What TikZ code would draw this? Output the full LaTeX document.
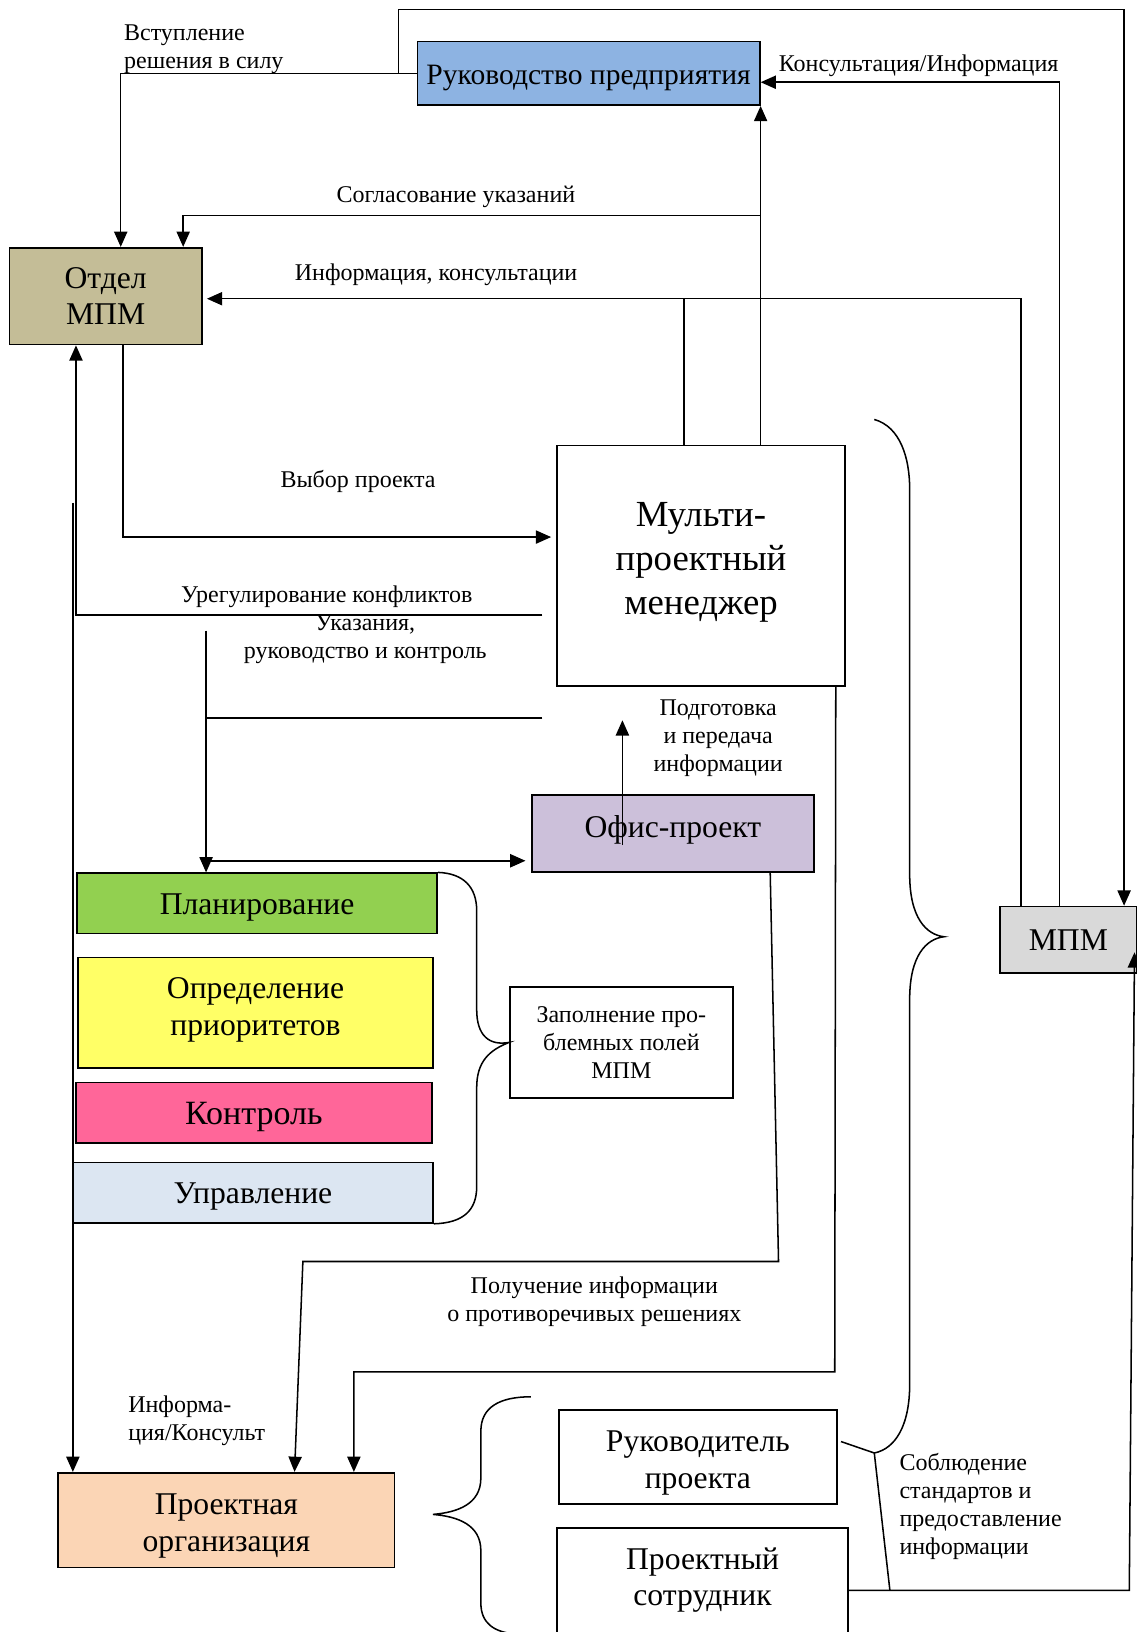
\documentclass[tikz,border=0pt]{standalone}
\usepackage{fontspec}
\setmainfont{Liberation Serif}
\usetikzlibrary{arrows.meta,calc}
\newcommand{\fntS}{\fontsize{17.3pt}{20.25pt}\selectfont}
\newcommand{\fntZ}{\fontsize{17.3pt}{20.25pt}\selectfont}
\newcommand{\fntR}{\fontsize{21.3pt}{25pt}\selectfont}
\newcommand{\fntM}{\fontsize{22.8pt}{26.5pt}\selectfont}
\newcommand{\fntK}{\fontsize{24.5pt}{28pt}\selectfont}
\newcommand{\fntL}{\fontsize{26.5pt}{31.5pt}\selectfont}
\definecolor{cRuk}{HTML}{8DB3E2}
\definecolor{cOtd}{HTML}{C4BD97}
\definecolor{cOfis}{HTML}{CCC0DA}
\definecolor{cPlan}{HTML}{92D050}
\definecolor{cOpr}{HTML}{FFFF66}
\definecolor{cKon}{HTML}{FF6699}
\definecolor{cUpr}{HTML}{DCE6F2}
\definecolor{cMpm}{HTML}{D9D9D9}
\definecolor{cPorg}{HTML}{FBD5B5}
\tikzset{
  box/.style={draw, line width=1.2pt, inner sep=0pt, align=center, font=\fntM},
  btxt/.style={inner sep=0pt, align=center, font=\fntM},
  conn/.style={line width=1.1pt},
  arr/.style={conn, -{Triangle[length=11pt,width=9.5pt]}},
  lbl/.style={font=\fntS, align=center, inner sep=0pt},
  brace/.style={line width=1.1pt},
}
\begin{document}
\begin{tikzpicture}[x=0.75pt,y=-0.75pt]
\useasboundingbox (0,0) rectangle (1092,1568);

% boxes
\node[box, fill=cRuk, minimum width=246.75pt, minimum height=45.75pt] (ruk) at (565.5,70.5) {};
\node[btxt, font=\fntR] (rukT) at (565.5,74.5) {Руководство предприятия};
\node[box, fill=cOtd, minimum width=138.75pt, minimum height=69.75pt] (otdel) at (101.5,284.5) {Отдел\\МПМ};
\node[box, minimum width=207.75pt, minimum height=173.25pt] (multi) at (673.5,543.5) {};
\node[btxt, font=\fntL] (multiT) at (673.5,540.5) {Мульти-\\проектный\\менеджер};
\node[box, fill=cOfis, minimum width=203.25pt, minimum height=55.5pt] (ofis) at (646.5,801) {};
\node[btxt] (ofisT) at (646.5,797.5) {Офис-проект};
\node[box, fill=cPlan, minimum width=259.5pt, minimum height=43.5pt] (plan) at (247,868) {};
\node[btxt] (planT) at (247,871.5) {Планирование};
\node[box, fill=cOpr, minimum width=255.75pt, minimum height=79.5pt] (opr) at (245.5,973) {};
\node[btxt] (oprT) at (245.5,970) {Определение\\приоритетов};
\node[box, fill=cKon, minimum width=256.5pt, minimum height=43.5pt] (kontr) at (244,1069) {};
\node[btxt, font=\fntK] (kontrT) at (244,1073.5) {Контроль};
\node[box, fill=cUpr, minimum width=259.5pt, minimum height=43.5pt] (upr) at (243,1146) {};
\node[btxt] (uprT) at (243,1149.5) {Управление};
\node[box, font=\fntZ, minimum width=160.5pt, minimum height=80.25pt] (zap) at (597,1001.5) {Заполнение про-\\блемных полей\\МПМ};
\node[box, fill=cMpm, minimum width=98.25pt, minimum height=48pt] (mpm) at (1026.5,903) {МПМ};
\node[box, fill=cPorg, minimum width=242.25pt, minimum height=68.25pt] (porg) at (217.5,1460.5) {};
\node[btxt] (porgT) at (217.5,1466.5) {Проектная\\организация};
\node[box, minimum width=200.25pt, minimum height=67.5pt] (rukp) at (670.5,1400) {};
\node[btxt] (rukpT) at (670.5,1405.5) {Руководитель\\проекта};
\node[box, minimum width=210pt, minimum height=84pt] (sotr) at (675,1524) {};
\node[btxt] (sotrT) at (675,1518) {Проектный\\сотрудник};

% labels
\node[lbl, align=left, anchor=west] (l1) at (119,47) {Вступление\\решения в силу};
\node[lbl, anchor=west] (l2) at (748,63.5) {Консультация/Информация};
\node[lbl] (l3) at (438,189.5) {Согласование указаний};
\node[lbl] (l4) at (419,263.5) {Информация, консультации};
\node[lbl] (l5) at (344,462.5) {Выбор проекта};
\node[lbl] (l6) at (314,573.5) {Урегулирование конфликтов};
\node[lbl] (l7) at (351,614) {Указания,\\руководство и контроль};
\node[lbl] (l8) at (690,709.5) {Подготовка\\и передача\\информации};
\node[lbl] (l9) at (571,1251) {Получение информации\\о противоречивых решениях};
\node[lbl, align=left, anchor=west] (l10) at (123,1365) {Информа-\\ция/Консульт};
\node[lbl, align=left, anchor=west] (l11) at (864,1447.5) {Соблюдение\\стандартов и\\предоставление\\информации};

% connectors
\draw[arr] (ruk.west) -| (116,0 |- otdel.north);
\draw[arr] (383,0 |- ruk.west) |- (1080,9) -- (1080,0 |- mpm.north);
\draw[arr] (1018,0 |- mpm.north) |- (ruk.east |- 0,79);
\draw[arr] (ruk.south east |- multi.north) -- (ruk.south east);
\draw[arr] (730,207) -| (176,0 |- otdel.north);
\draw[arr, shorten >=3pt] (981,0 |- mpm.north) |- (otdel.east |- 0,287);
\draw[conn] (657,0 |- multi.north) -- (657,287);
\draw[arr, shorten >=3.5pt] (118,0 |- otdel.south) |- (multi.west |- 0,516);
\draw[arr] (521,591) -| (73,0 |- otdel.south);
\draw[arr] (70,483) -- (70,0 |- porg.north);
\draw[conn] (521,690) -- (198,690);
\draw[arr] (198,606) -- (198,0 |- plan.north);
\draw[arr, shorten >=4pt] (198,827) -- (ofis.west |- 0,827);
\draw[arr] (598,812) -- (598,692);
\draw[arr] (740,0 |- ofis.south) -- (748,1212) -- (291,1212) -- (283,0 |- porg.north);
\draw[arr] (803,0 |- multi.south) -- (802,1318) -- (340,1318) -- (340,0 |- porg.north);
\draw[conn] (808,1385) -- (840,1396) -- (855,1528);
\draw[arr] (sotr.east |- 0,1528) -- (1085,1528) -- (1090,915);

% braces
\draw[brace] (840,403) .. controls (865,410) and (874,440) .. (874,470) -- (874,840)
  .. controls (874,882) and (890,898) .. (907,900)
  .. controls (890,902) and (874,918) .. (874,960) -- (874,1330)
  .. controls (874,1370) and (860,1392) .. (840,1396);
\draw[brace] (plan.north east) .. controls (445,839) and (458,852) .. (458,875) -- (458,970)
  .. controls (458,995) and (470,1005) .. (zap.west)
  .. controls (470,1009) and (458,1020) .. (458,1045) -- (458,1140)
  .. controls (458,1163) and (445,1175) .. (upr.south east);
\draw[brace] (510,1342) .. controls (480,1342) and (462,1352) .. (462,1375) -- (462,1420)
  .. controls (462,1445) and (440,1453) .. (416,1455)
  .. controls (440,1457) and (462,1465) .. (462,1490) -- (462,1540)
  .. controls (462,1560) and (475,1568) .. (495,1570);
\end{tikzpicture}
\end{document}
